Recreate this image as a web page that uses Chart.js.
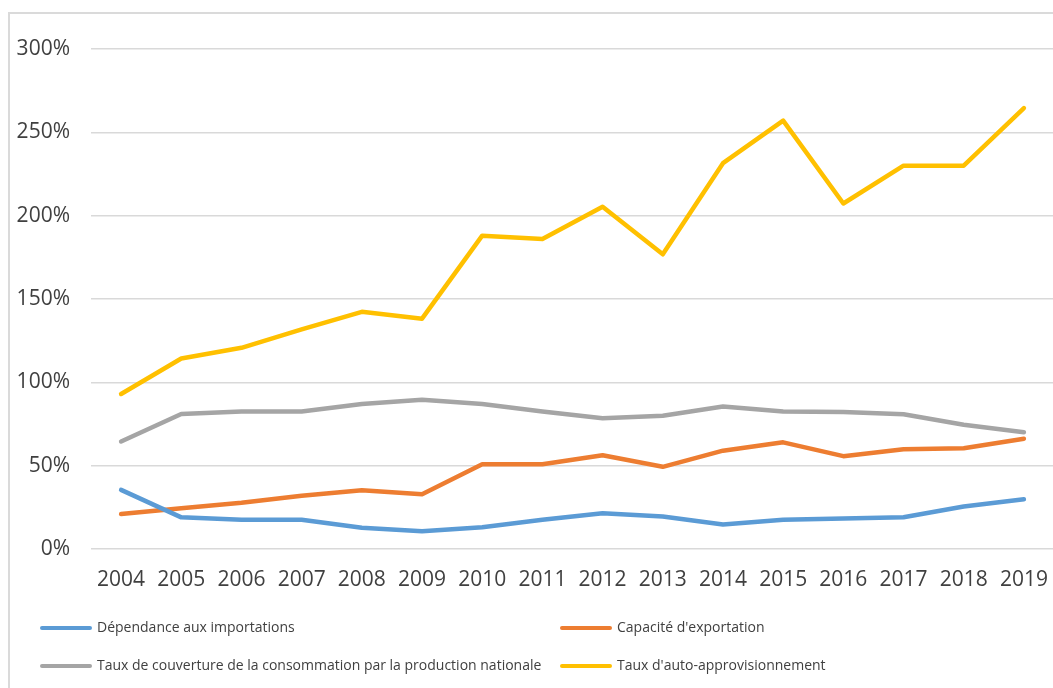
<!DOCTYPE html>
<html lang="fr">
<head>
<meta charset="utf-8">
<title>Indicateurs d'approvisionnement 2004–2019</title>
<script src="https://cdn.jsdelivr.net/npm/chart.js@4"></script>
<style>
  html, body { margin: 0; padding: 0; background: #ffffff; overflow: hidden; }
  body { width: 1053px; height: 688px; position: relative; }
  #frame {
    position: absolute; left: 8px; top: 12px; width: 1100px; height: 700px;
    border-left: 2px solid #dadada; border-top: 2px solid #dadada;
  }
  #wrap { position: absolute; left: 0; top: 0; width: 1070px; height: 688px; }
</style>
</head>
<body>
<div id="frame"></div>
<div id="wrap"><canvas id="chart" width="1070" height="688"></canvas></div>
<script>
// Années
const years = ['2004','2005','2006','2007','2008','2009','2010','2011','2012','2013','2014','2015','2016','2017','2018','2019'];

// Séries (en %)
const dependanceImportations = [35.5, 19, 17.5, 17.5, 12.7, 10.7, 13, 17.5, 21.5, 19.5, 14.7, 17.5, 18.3, 19, 25.5, 29.8];
const capaciteExportation    = [21, 24.5, 27.8, 32, 35.2, 32.8, 50.8, 50.8, 56.2, 49.3, 59, 64, 55.7, 59.8, 60.5, 66.2];
const tauxCouverture         = [64.5, 81, 82.5, 82.5, 87, 89.5, 87, 82.5, 78.5, 80, 85.5, 82.5, 82.2, 80.8, 74.5, 70];
const tauxAutoAppro          = [93, 114.3, 120.7, 131.8, 142.3, 138.2, 188, 186, 205.3, 176.8, 231.5, 257, 207.3, 230, 230, 264.5];

// Libellés de la légende et couleurs
const seriesLabels = [
  'Dépendance aux importations',
  "Capacité d'exportation",
  'Taux de couverture de la consommation par la production nationale',
  "Taux d'auto-approvisionnement"
];
const seriesColors = ['#5B9BD5', '#ED7D31', '#A5A5A5', '#FFC000'];

// Ticks de l'axe vertical
const yTickValues = [0, 50, 100, 150, 200, 250, 300];

const seriesData = [dependanceImportations, capaciteExportation, tauxCouverture, tauxAutoAppro];

// Légende sur deux colonnes, dessinée sous le graphique
const legendLayout = { colX: [40, 560], rowY: [628, 666], lineLen: 52, gap: 5 };

const twoColumnLegend = {
  id: 'twoColumnLegend',
  afterDraw(chart) {
    const ctx = chart.ctx;
    ctx.save();
    chart.data.datasets.forEach((ds, i) => {
      const x = legendLayout.colX[i % 2];
      const y = legendLayout.rowY[Math.floor(i / 2)];
      ctx.strokeStyle = ds.borderColor;
      ctx.lineWidth = 4;
      ctx.lineCap = 'round';
      ctx.beginPath();
      ctx.moveTo(x + 2, y);
      ctx.lineTo(x + legendLayout.lineLen - 2, y);
      ctx.stroke();
      ctx.fillStyle = '#404040';
      ctx.font = '14px "Open Sans", sans-serif';
      ctx.textBaseline = 'middle';
      ctx.textAlign = 'left';
      ctx.fillText(ds.label, x + legendLayout.lineLen + legendLayout.gap, y);
    });
    ctx.restore();
  }
};

new Chart(document.getElementById('chart'), {
  type: 'line',
  data: {
    labels: years,
    datasets: seriesData.map((values, i) => ({
      label: seriesLabels[i],
      data: values,
      borderColor: seriesColors[i],
      backgroundColor: seriesColors[i],
      borderWidth: 4.5,
      borderCapStyle: 'round',
      borderJoinStyle: 'round',
      pointRadius: 0,
      pointHoverRadius: 0,
      tension: 0,
      fill: false
    }))
  },
  options: {
    responsive: false,
    animation: false,
    events: [],
    layout: { padding: { top: 49, left: 0, right: 16, bottom: 94 } },
    plugins: {
      legend: { display: false },
      tooltip: { enabled: false },
      title: { display: false }
    },
    scales: {
      x: {
        type: 'category',
        offset: true,
        grid: { display: false, drawTicks: false },
        border: { display: false },
        ticks: {
          color: '#404040',
          font: { family: '"Open Sans", sans-serif', size: 21 },
          padding: 18,
          maxRotation: 0,
          autoSkip: false
        },
        afterFit(scale) { scale.height = 45; }
      },
      y: {
        min: 0,
        max: 300,
        afterBuildTicks(scale) { scale.ticks = yTickValues.map(v => ({ value: v })); },
        grid: { color: '#d9d9d9', lineWidth: 1.5, drawTicks: false },
        border: { display: false },
        ticks: {
          color: '#404040',
          font: { family: '"Open Sans", sans-serif', size: 21 },
          padding: 21,
          callback: v => v + '%'
        },
        afterFit(scale) { scale.width = 91; }
      }
    }
  },
  plugins: [twoColumnLegend]
});
</script>
</body>
</html>
